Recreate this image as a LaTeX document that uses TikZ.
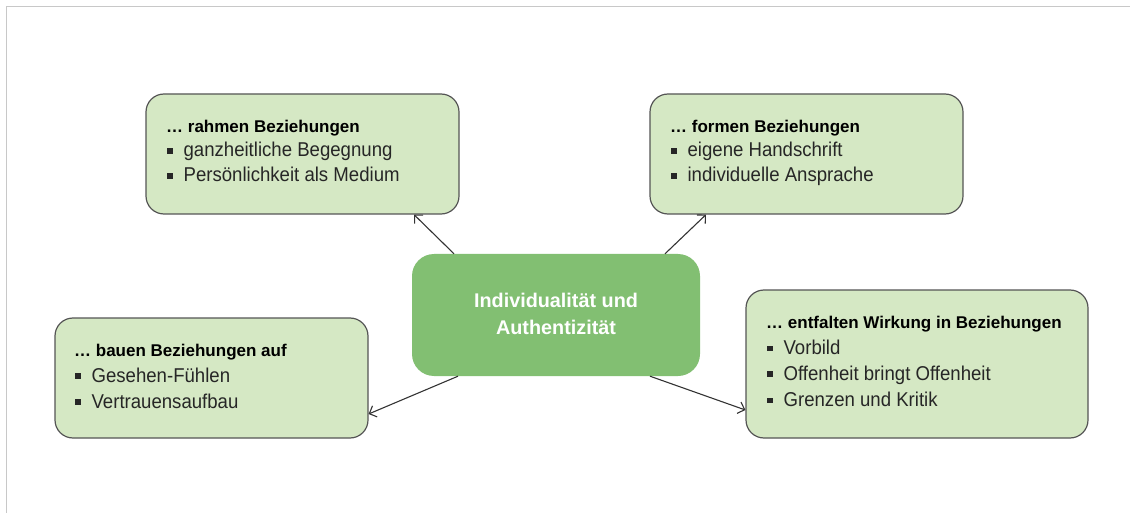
\documentclass[tikz,border=0pt]{standalone}
\usepackage{fontspec}
\setmainfont{Liberation Sans}
\newfontfamily\itemfont{Liberation Sans}[FakeStretch=0.93]
\usetikzlibrary{arrows.meta,calc}
\definecolor{boxfill}{HTML}{D5E8C4}
\definecolor{boxline}{HTML}{555555}
\definecolor{corefill}{HTML}{82BF72}
\definecolor{framegray}{HTML}{C8C8C8}
\definecolor{itemgray}{HTML}{262626}
\definecolor{arrowgray}{HTML}{333333}
\newcommand{\bsq}{\rule[3.2pt]{5.4pt}{5.4pt}\hspace{11pt}}
\begin{document}
\begin{tikzpicture}[x=1pt,y=-1pt,
  box/.style={draw=boxline, line width=1.2pt, fill=boxfill, rounded corners=18pt, inner sep=0pt},
  core/.style={fill=corefill, rounded corners=22pt, inner sep=0pt, minimum width=288pt, minimum height=122pt},
  ttl/.style={anchor=base west, inner sep=0pt, font=\fontsize{17}{20}\selectfont\bfseries, text=black},
  itm/.style={anchor=base west, inner sep=0pt, font=\itemfont\fontsize{20}{24}\selectfont, text=itemgray},
  coretxt/.style={anchor=base, inner sep=0pt, font=\fontsize{19.8}{23}\selectfont\bfseries, text=white},
  conn/.style={draw=arrowgray, line width=1.1pt, -{Straight Barb[length=6pt,width=12pt,line width=1.1pt]}}
]
\useasboundingbox (0,0) rectangle (1130,513);
% frame lines
\coordinate (f0) at (6.5,513);
\coordinate (f1) at (6.5,6.5);
\coordinate (f2) at (1130,6.5);
\draw[framegray, line width=1.5pt] (f0) -- (f1) -- (f2);

% boxes
\node[box, minimum width=313pt, minimum height=120pt] (tl) at (302.5,154) {};
\node[box, minimum width=313pt, minimum height=120pt] (tr) at (806.5,154) {};
\node[box, minimum width=313pt, minimum height=120pt] (bl) at (211.5,378) {};
\node[box, minimum width=342pt, minimum height=148pt] (br) at (917,364) {};
\node[core] (c) at (556,315) {};

% center text
\node[coretxt] (c1) at (556,307.5) {Individualität und};
\node[coretxt] (c2) at (556,334.5) {Authentizität};

% top left
\node[ttl] (tl0) at (166,132.5) {… rahmen Beziehungen};
\node[itm] (tl1) at (167,157) {\bsq ganzheitliche Begegnung};
\node[itm] (tl2) at (167,182) {\bsq Persönlichkeit als Medium};

% top right
\node[ttl] (tr0) at (670,132.5) {… formen Beziehungen};
\node[itm] (tr1) at (671,157) {\bsq eigene Handschrift};
\node[itm] (tr2) at (671,182) {\bsq individuelle Ansprache};

% bottom left
\node[ttl] (bl0) at (74,356) {… bauen Beziehungen auf};
\node[itm] (bl1) at (75,382) {\bsq Gesehen-Fühlen};
\node[itm] (bl2) at (75,408) {\bsq Vertrauensaufbau};

% bottom right
\node[ttl] (br0) at (766,328) {… entfalten Wirkung in Beziehungen};
\node[itm] (br1) at (767,354.3) {\bsq Vorbild};
\node[itm] (br2) at (767,380) {\bsq Offenheit bringt Offenheit};
\node[itm] (br3) at (767,406.5) {\bsq Grenzen und Kritik};

% connectors
\draw[conn] ($(c.north)+(-102,0)$) -- ($(tl.south)+(111.5,0)$);
\draw[conn] ($(c.north)+(109,0)$) -- ($(tr.south)+(-100.5,0)$);
\draw[conn] ($(c.south)+(-98,0)$) -- ($(bl.east)+(0,36)$);
\draw[conn] ($(c.south)+(94,0)$) -- ($(br.west)+(0,46)$);
\end{tikzpicture}
\end{document}
